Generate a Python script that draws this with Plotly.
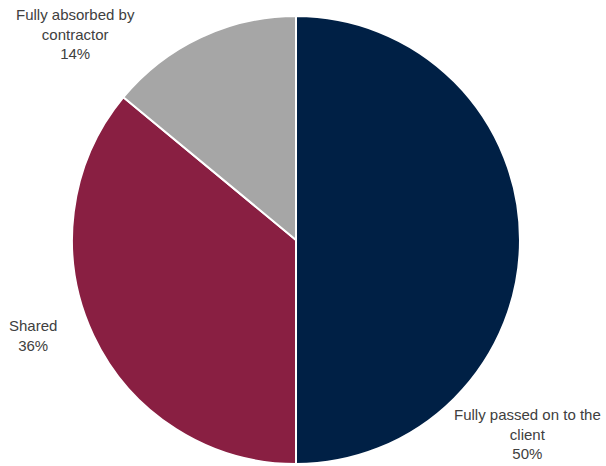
import plotly.graph_objects as go

labels = ["Fully passed on to the client", "Shared", "Fully absorbed by contractor"]
label_text = ["Fully passed on to the<br>client", "Shared", "Fully absorbed by<br>contractor"]
values = [50, 36, 14]
colors = ["#002045", "#891F42", "#A6A6A6"]
label_pos = [(0.871, 0.068), (0.054, 0.281), (0.124, 0.927)]

fig = go.Figure(go.Pie(
    labels=labels, values=values, sort=False, direction="clockwise", rotation=0,
    marker=dict(colors=colors, line=dict(color="white", width=2)),
    textinfo="none", hoverinfo="label+percent",
    domain=dict(x=[72/606, 520/606], y=[2/466, 1-16/466]),
))

for t, v, (x, y) in zip(label_text, values, label_pos):
    fig.add_annotation(text=f"{t}<br>{v}%", x=x, y=y, xref="paper", yref="paper",
                       showarrow=False, xanchor="center", yanchor="middle",
                       font=dict(family="Liberation Sans, Arial", size=15, color="#404040"))

fig.update_layout(width=606, height=466, margin=dict(l=0, r=0, t=0, b=0),
                  showlegend=False, paper_bgcolor="white", plot_bgcolor="white")
fig.write_html("out.html")
